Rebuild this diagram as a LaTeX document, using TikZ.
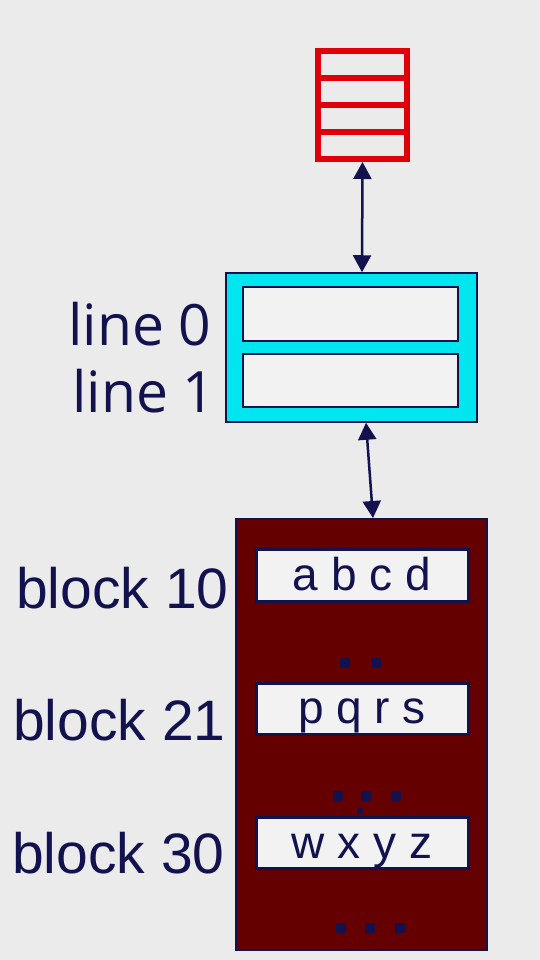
\documentclass[tikz,border=0pt]{standalone}
\usepackage{fontspec}
\setmainfont{Liberation Sans}
\newfontfamily\linefont{Open Sans}
\usetikzlibrary{arrows.meta}
\definecolor{bg}{HTML}{EBEBEB}
\definecolor{navy}{HTML}{12124E}
\definecolor{memred}{HTML}{E0000A}
\definecolor{cachecyan}{HTML}{00E6EE}
\definecolor{diskred}{HTML}{650000}
\definecolor{cellwhite}{HTML}{F2F2F2}
\tikzset{
  memframe/.style={draw=memred, line width=6pt, rectangle, inner sep=0pt},
  cacheframe/.style={draw=navy, fill=cachecyan, line width=1.5pt, rectangle, inner sep=0pt},
  cacheline/.style={draw=navy, fill=cellwhite, line width=2.5pt, rectangle, inner sep=0pt},
  diskframe/.style={draw=navy, fill=diskred, line width=2pt, rectangle, inner sep=0pt},
  blockcell/.style={draw=navy, fill=cellwhite, line width=3pt, rectangle, inner sep=0pt, minimum width=212pt},
  biglabel/.style={text=navy, inner sep=0pt, font=\fontsize{57}{60}\selectfont},
  linelabel/.style={text=navy, inner sep=0pt, font=\linefont\fontsize{57}{60}\selectfont},
  celltext/.style={text=navy, inner sep=0pt, anchor=base, font=\fontsize{46}{50}\selectfont},
  link/.style={draw=navy, line width=2.5pt, {Triangle[length=17pt,width=18pt]}-{Triangle[length=17pt,width=18pt]}},
  dotmark/.style={rectangle, rounded corners=2pt, fill=navy, inner sep=0pt, minimum size=10pt},
}
\begin{document}
\begin{tikzpicture}[x=1pt,y=-1pt]
\fill[bg] (0,0) rectangle (540,960);
\useasboundingbox (0,0) rectangle (540,960);

% memory (red)
\node[memframe, minimum width=89pt, minimum height=108pt] (mem) at (362.5,105) {};
\draw[memred, line width=6pt] (318,78) -- (407,78);
\draw[memred, line width=6pt] (318,105) -- (407,105);
\draw[memred, line width=6pt] (318,132) -- (407,132);

% cache (cyan)
\node[cacheframe, minimum width=251pt, minimum height=149pt] (cache) at (351.5,347.5) {};
\node[cacheline, minimum width=215pt, minimum height=54pt] (line0) at (350.5,314) {};
\node[cacheline, minimum width=215pt, minimum height=53pt] (line1) at (350.5,380.5) {};
\node[linelabel, anchor=base west] (l0lab) at (68,345) {line 0};
\node[linelabel, anchor=base west] (l1lab) at (72,412) {line 1};

% disk (maroon)
\node[diskframe, minimum width=251pt, minimum height=431pt] (disk) at (361.5,734.5) {};
\node[blockcell, minimum height=52pt] (b10) at (362,575) {};
\node[blockcell, minimum height=51pt] (b21) at (362,708.5) {};
\node[blockcell, minimum height=51pt] (b30) at (362,842.5) {};
\node[celltext] (t10) at (362,590) {a b c d};
\node[celltext] (t21) at (362,723) {p q r s};
\node[celltext] (t30) at (362,858) {w x y z};
\node[biglabel, anchor=base west] (lab10) at (16,608) {block 10};
\node[biglabel, anchor=base west] (lab21) at (13,740) {block 21};
\node[biglabel, anchor=base west] (lab30) at (12,873) {block 30};

% dots
\node[dotmark] (d1) at (345,663) {};
\node[dotmark] (d2) at (376,663) {};
\node[dotmark] (d3) at (338,796) {};
\node[dotmark] (d4) at (366,796) {};
\node[dotmark] (d5) at (396,796) {};
\node[dotmark, minimum size=6pt] (d6) at (360,811) {};
\node[dotmark] (d7) at (341,928) {};
\node[dotmark] (d8) at (370,928) {};
\node[dotmark] (d9) at (400,928) {};

% connectors
\draw[link] (mem.south) -- ([xshift=10.5pt]cache.north);
\draw[link] ([xshift=14.5pt]cache.south) -- ([xshift=11.5pt]disk.north);
\end{tikzpicture}
\end{document}
